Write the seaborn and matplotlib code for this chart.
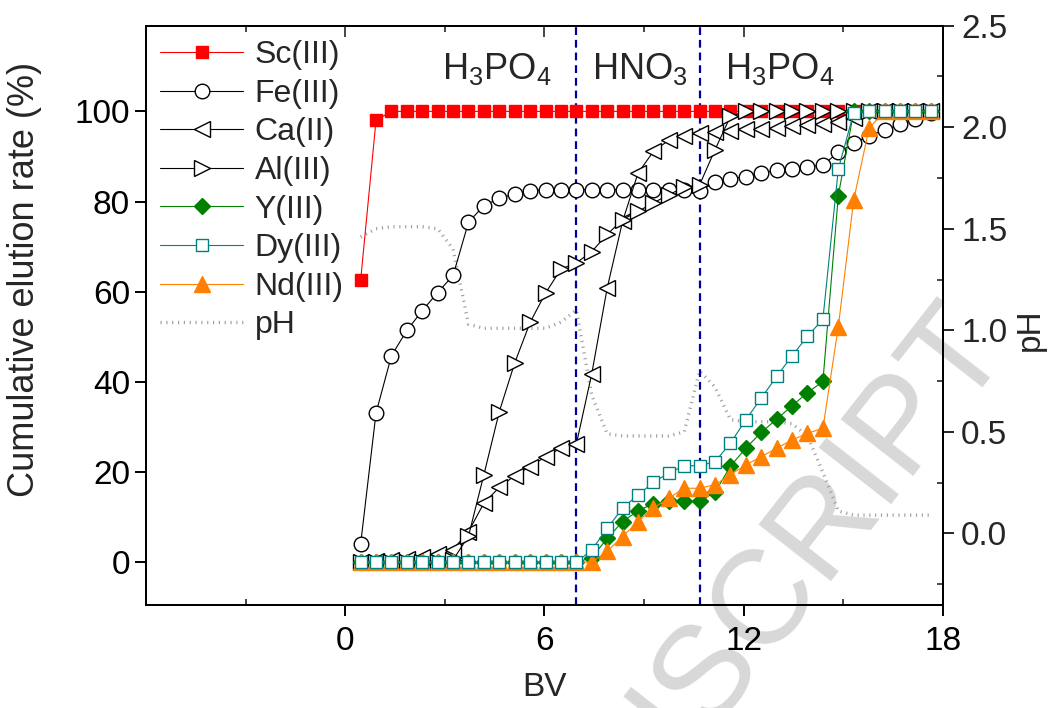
import numpy as np
import matplotlib
matplotlib.use("Agg")
import matplotlib.pyplot as plt
import seaborn as sns
from matplotlib.ticker import MultipleLocator

# bed volumes (evenly spaced samples)
bv = np.round(np.arange(1, 39) * 0.464, 3)

sc = [62.5, 98.0, 100, 100, 100, 100, 100, 100, 100, 100, 100, 100, 100, 100, 100, 100, 100, 100, 100,
      100, 100, 100, 100, 100, 100, 100, 100, 100, 100, 100, 100, 100, 100, 100, 100, 100, 100, 100]
fe = [4.0, 33.1, 45.8, 51.4, 55.8, 59.8, 63.6, 75.4, 79.1, 80.7, 81.7, 82.4, 82.6, 82.6, 82.6, 82.6, 82.6,
      82.6, 82.6, 82.6, 82.6, 82.6, 82.3, 84.3, 85.1, 85.5, 86.3, 86.9, 87.2, 87.7, 88.1, 90.9, 92.9,
      94.6, 95.8, 97.1, 98.3, 99.7]
ca = [0, 0.2, 0.5, 0.8, 1.2, 1.8, 2.8, 6.8, 13.1, 16.6, 19.2, 21.2, 23.4, 25.3, 26.2, 41.8, 60.8, 75.6,
      86.3, 91.1, 93.6, 94.6, 95.2, 95.4, 95.6, 96.0, 96.1, 96.4, 96.7, 97.0, 97.3, 97.6, 98.5, 100, 100,
      100, 100, 100]
al = [0, 0, 0, 0, 0, 0, 0.5, 5.8, 19.4, 33.4, 44.2, 53.2, 59.7, 65.0, 66.4, 68.9, 72.7, 76.0, 77.8, 79.7,
      81.5, 83.2, 83.7, 91.5, 98.9, 100, 100, 100, 100, 100, 100, 100, 100, 100, 100, 100, 100, 100]
y_ = [0, 0, 0, 0, 0, 0, 0, 0, 0, 0, 0, 0, 0, 0, 0, 1.0, 5.3, 9.0, 11.4, 13.0, 13.5, 13.5, 13.5, 15.5,
      21.3, 25.3, 28.8, 31.7, 34.7, 37.6, 40.1, 81.3, 100, 100, 100, 100, 100, 100]
dy = [0, 0, 0, 0, 0, 0, 0, 0, 0, 0, 0, 0, 0, 0, 0, 2.7, 7.5, 12.0, 14.9, 17.7, 19.8, 21.4, 21.4, 22.3,
      26.4, 31.6, 36.4, 41.2, 45.8, 50.1, 53.9, 87.2, 99.7, 100, 100, 100, 100, 100]
nd = [0, 0, 0, 0, 0, 0, 0, 0, 0, 0, 0, 0, 0, 0, 0, 0, 2.4, 5.7, 9.0, 12.0, 14.2, 16.4, 16.4, 17.2, 19.4,
      21.6, 23.4, 25.3, 27.1, 28.6, 29.7, 52.2, 80.4, 96.3, 100, 100, 100, 100]
ph = [1.46, 1.50, 1.51, 1.51, 1.51, 1.50, 1.40, 1.03, 1.01, 1.01, 1.01, 1.01, 1.01, 1.04, 1.10, 0.68,
      0.49, 0.48, 0.48, 0.48, 0.48, 0.50, 0.80, 0.72, 0.56, 0.55, 0.55, 0.55, 0.54, 0.48, 0.30, 0.11,
      0.09, 0.09, 0.09, 0.09, 0.09, 0.09]

eluent_switch = [6.96, 10.67]
eluents = ["H$_3$PO$_4$", "HNO$_3$", "H$_3$PO$_4$"]
eluent_x = [4.56, 8.87, 13.09]

sns.set_theme(style="ticks")
plt.rcParams["font.family"] = ["Liberation Sans", "DejaVu Sans"]
plt.rcParams["mathtext.fontset"] = "custom"
plt.rcParams["mathtext.rm"] = "Liberation Sans"
plt.rcParams["mathtext.it"] = "Liberation Sans:italic"

fig = plt.figure(figsize=(10.63, 7.08), dpi=100)
fig.patch.set_facecolor("white")
ax = fig.add_axes([0.1373, 0.1448, 0.7498, 0.8189])
ax2 = ax.twinx()
ax.set_zorder(ax2.get_zorder() + 1)
ax.patch.set_visible(False)
ax2.patch.set_visible(False)

# watermark behind everything
fig.text(1012 / 1063, 1 - 350 / 708, "ACCEPTED MANUSCRIPT", rotation=52, rotation_mode="anchor",
         ha="right", va="baseline", fontsize=96, color="#d8d8d8", zorder=-1)

series = [
    ("Sc(III)", sc, "#ff0000", "s", "#ff0000", 9),
    ("Fe(III)", fe, "black", "o", "white", 10.5),
    ("Ca(II)", ca, "black", "<", "white", 11),
    ("Al(III)", al, "black", ">", "white", 11),
    ("Y(III)", y_, "#008000", "D", "#008000", 8.5),
    ("Nd(III)", nd, "#ff8000", "^", "#ff8000", 11),
    ("Dy(III)", dy, "#008080", "s", "white", 8.5),
]
for lab, vals, col, mk, face, ms in series:
    sns.lineplot(x=bv, y=vals, ax=ax, color=col, lw=0.8, marker=mk, markersize=ms,
                 markerfacecolor=face, markeredgecolor=col, markeredgewidth=1.0, label=lab)

sns.lineplot(x=bv, y=ph, ax=ax2, color="#a0a0a0", lw=2.4, label="pH")
ax2.lines[-1].set_dashes((0.35, 1.4))
ax2.lines[-1].set_dash_capstyle("butt")

for xv in eluent_switch:
    ax.axvline(xv, color="#0000a0", lw=1.6, ls=(0, (3.5, 2.2)), zorder=1)
for xt, txt in zip(eluent_x, eluents):
    ax.text(xt, 109.5, txt, ha="center", va="center", fontsize=26)

ax.set_xlim(-6, 18)
ax.set_ylim(-9.6, 119)
ax2.set_ylim(-0.355, 2.5)
ax.set_xticks([0, 6, 12, 18])
ax.xaxis.set_minor_locator(MultipleLocator(3))
ax.set_yticks([0, 20, 40, 60, 80, 100])
ax2.set_yticks([0, 0.5, 1.0, 1.5, 2.0, 2.5])
ax2.set_yticklabels(["0.0", "0.5", "1.0", "1.5", "2.0", "2.5"])
ax2.yaxis.set_minor_locator(MultipleLocator(0.25))

ax.tick_params(axis="both", which="major", direction="out", length=8, width=1.4, labelsize=24,
               colors="black")
ax.tick_params(axis="x", which="major", pad=7)
ax.tick_params(axis="x", which="minor", direction="in", length=4, width=1.2)
ax2.tick_params(axis="y", which="major", direction="out", length=8, width=1.4, labelsize=24, pad=5)
ax2.tick_params(axis="y", which="minor", direction="in", length=4, width=1.2)

top = ax.secondary_xaxis("top")
top.set_xticks([0, 6, 12, 18])
top.xaxis.set_minor_locator(MultipleLocator(3))
top.tick_params(which="major", direction="in", length=8, width=1.2, labeltop=False)
top.tick_params(which="minor", direction="in", length=4, width=1.2)

for a in (ax, ax2):
    for s in a.spines.values():
        s.set_linewidth(1.4)
        s.set_color("black")
top.spines["top"].set_linewidth(1.4)

ax.set_xlabel("BV", fontsize=24)
ax.xaxis.set_label_coords(0.5, -0.115)
ax.set_ylabel("Cumulative elution rate (%)", fontsize=26)
ax.yaxis.set_label_coords(-0.13, 0.563)
ax2.set_ylabel("pH", fontsize=24)
ax2.yaxis.set_label_coords(1.09, 0.475)

h1, l1 = ax.get_legend_handles_labels()
h2, l2 = ax2.get_legend_handles_labels()
order = ["Sc(III)", "Fe(III)", "Ca(II)", "Al(III)", "Y(III)", "Dy(III)", "Nd(III)", "pH"]
hd = dict(zip(l1 + l2, h1 + h2))
if ax2.get_legend() is not None:
    ax2.get_legend().remove()
ax.legend([hd[k] for k in order], order, loc="upper left", bbox_to_anchor=(0.0, 1.0), frameon=False,
          fontsize=23, handlelength=2.6, handletextpad=0.35, labelspacing=0.27, borderaxespad=0.3,
          borderpad=0.15)

fig.savefig("out.png", dpi=100)
